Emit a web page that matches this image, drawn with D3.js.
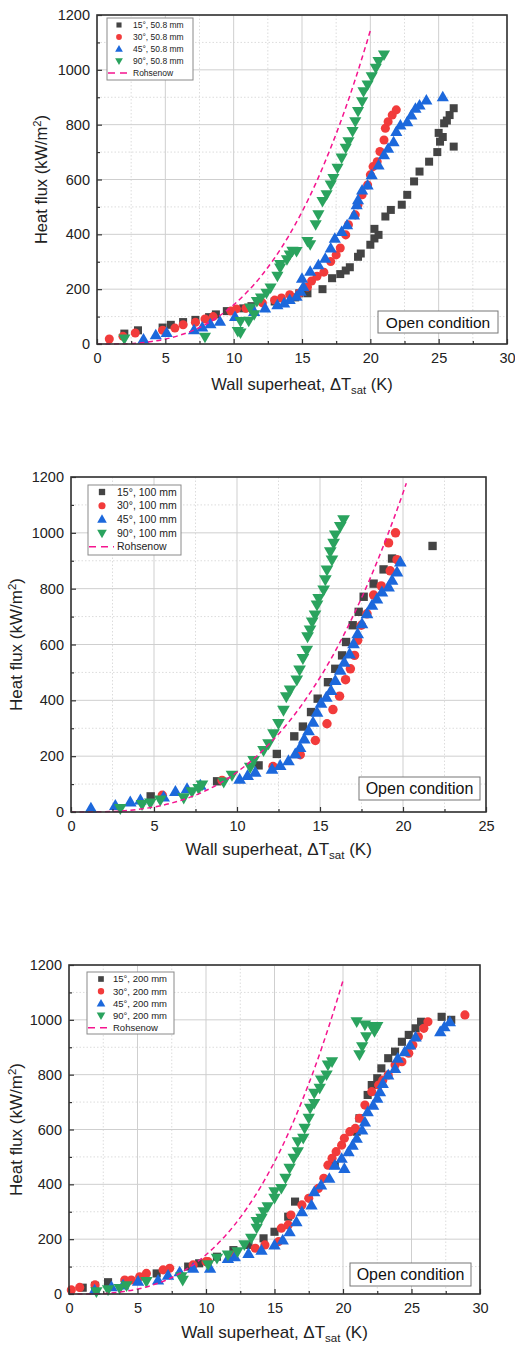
<!DOCTYPE html>
<html>
<head>
<meta charset="utf-8">
<script src="https://cdn.jsdelivr.net/npm/d3@7"></script>
<style>
  body { margin: 0; background: #fff; }
  svg { display: block; font-family: "Liberation Sans", Arial, sans-serif; }
</style>
</head>
<body>
<svg id="chart" width="515" height="1345"></svg>
<script>
// ---- data: [wall superheat (K), heat flux (kW/m2)] ----
let seriesNames = ["15°", "30°", "45°", "90°"];
let lengths = ["50.8 mm", "100 mm", "200 mm"];

let p1s15 = [[2.0,38],[3.0,50],[4.8,60],[5.4,70],[6.3,80],[7.2,88],[8.2,98],[8.7,108],[9.5,120],[10.7,130],[11.3,138],[13.0,155],[14.5,170],[14.8,185],[15.4,185],[16.5,200],[17.2,240],[17.8,255],[18.2,268],[18.5,280],[19.1,318],[19.3,330],[20.0,362],[20.3,385],[20.6,398],[20.3,420],[21.1,465],[21.5,489],[22.3,508],[22.7,544],[23.2,593],[23.6,629],[24.3,665],[24.9,700],[25.1,738],[25.3,755],[25.0,770],[26.1,720],[25.4,805],[25.6,815],[25.8,835],[26.1,860]];
let p1s30 = [[0.9,18],[1.9,28],[2.8,40],[4.8,50],[5.7,58],[6.3,70],[7.2,79],[7.9,91],[8.5,100],[9.8,120],[10.2,128],[10.9,130],[12.1,150],[13.0,160],[13.5,168],[14.1,180],[14.8,185],[15.4,208],[15.7,230],[16.1,247],[16.6,262],[17.1,301],[17.5,325],[17.8,350],[18.2,398],[18.4,435],[18.9,471],[19.1,508],[19.4,544],[19.8,580],[20.0,617],[20.2,647],[20.5,665],[20.7,702],[21.0,744],[21.1,787],[21.3,811],[21.6,835],[21.9,854]];
let p1s45 = [[3.4,18],[4.3,34],[5.1,42],[7.1,52],[7.7,62],[8.3,74],[9.0,83],[10.1,100],[11.5,119],[12.3,131],[13.2,143],[13.7,150],[14.1,162],[14.6,174],[14.9,192],[15.1,210],[15.0,240],[15.6,265],[16.2,289],[16.7,313],[17.1,350],[17.4,386],[17.9,410],[18.3,435],[18.8,471],[19.0,508],[19.1,526],[19.4,562],[19.8,580],[20.1,617],[20.6,653],[21.0,690],[21.3,714],[21.7,738],[21.9,775],[22.2,799],[22.7,811],[23.0,835],[23.3,860],[23.6,872],[24.1,890],[25.3,902]];
let p1s90 = [[2.0,18],[7.9,25],[10.3,46],[10.5,40],[10.5,82],[11.1,83],[11.2,131],[11.5,107],[12.0,168],[11.7,155],[12.4,185],[12.7,204],[13.2,247],[13.4,277],[13.4,290],[13.9,307],[14.1,325],[14.3,338],[14.6,337],[15.4,374],[15.6,362],[16.0,435],[16.2,471],[16.5,520],[16.8,544],[17.1,580],[17.3,604],[17.6,641],[17.9,678],[18.2,714],[18.4,738],[18.7,775],[18.9,811],[19.1,848],[19.4,884],[19.5,920],[19.8,945],[20.1,975],[20.4,1006],[20.6,1030],[21.0,1054]];

let p2s15 = [[4.8,56],[8.8,110],[11.3,167],[12.4,208],[13.45,271],[13.97,306],[14.46,358],[14.86,406],[15.48,465],[15.92,513],[16.33,561],[16.57,609],[16.97,669],[17.33,717],[17.63,771],[18.23,818],[18.83,869],[19.34,908],[21.78,953]];
let p2s30 = [[5.5,60],[9.1,113],[12.17,163],[13.81,205],[14.72,256],[15.42,316],[15.78,367],[16.18,415],[16.54,474],[16.83,513],[17.08,561],[17.27,615],[17.49,669],[17.83,710],[18.23,777],[18.69,810],[19.23,864],[19.64,904],[19.13,964],[19.55,1000]];
let p2s45 = [[1.2,14],[2.67,24],[3.57,36],[4.18,44],[5.58,54],[6.29,74],[6.99,84],[7.79,96],[10.16,118],[10.64,131],[11.1,143],[12.11,154],[12.6,167],[13.1,184],[13.51,208],[13.8,232],[14.05,262],[14.31,292],[14.58,322],[14.82,358],[15.06,390],[15.38,412],[15.66,436],[15.92,472],[16.22,508],[16.46,537],[16.78,567],[17.02,603],[17.27,639],[17.53,675],[17.83,711],[18.13,741],[18.43,764],[18.73,789],[19.13,807],[19.34,831],[19.64,860],[19.84,896]];
let p2s90 = [[2.97,12],[4.28,26],[4.78,32],[5.38,42],[6.79,50],[7.29,72],[7.69,84],[7.89,96],[9.2,107],[9.7,131],[10.8,160],[11.0,184],[11.6,220],[11.9,244],[12.2,280],[12.5,316],[12.8,364],[12.97,412],[13.2,436],[13.6,472],[13.77,508],[13.97,549],[14.2,579],[14.25,627],[14.4,651],[14.53,680],[14.7,705],[14.82,741],[14.92,764],[15.22,795],[15.32,831],[15.42,866],[15.72,902],[15.62,932],[15.82,962],[15.92,992],[16.22,1022],[16.42,1046]];

let p3s15 = [[1.0,23],[1.9,30],[2.85,43],[6.4,75],[8.7,100],[9.5,112],[10.8,136],[12.0,160],[13.1,179],[14.2,203],[15.0,227],[16.0,282],[16.5,337],[19.4,470],[21.0,592],[21.2,641],[21.8,726],[22.1,762],[22.5,787],[22.8,823],[23.3,860],[23.8,884],[24.3,920],[24.8,945],[25.3,969],[25.7,993],[27.2,1011],[27.9,1000]];
let p3s30 = [[0.17,15],[0.78,24],[1.9,33],[4.07,51],[4.55,51],[5.16,63],[5.65,75],[6.87,88],[7.35,94],[9.06,106],[10.0,118],[10.15,118],[12.0,142],[13.6,167],[14.3,179],[15.3,191],[15.5,240],[16.0,252],[16.2,288],[17.0,325],[17.5,349],[18.2,385],[18.6,422],[18.9,470],[19.2,495],[19.5,519],[19.9,543],[20.1,568],[20.5,592],[20.9,604],[21.2,641],[21.6,689],[22.1,738],[22.6,762],[22.9,780],[23.3,799],[23.8,835],[24.3,847],[24.8,878],[25.1,908],[25.5,938],[25.9,969],[26.2,993],[28.9,1018]];
let p3s45 = [[1.87,15],[3.1,27],[3.95,33],[5.04,47],[6.5,51],[7.23,69],[8.08,81],[9.06,94],[10.3,94],[11.6,130],[12.1,136],[13.1,148],[14.05,160],[15.0,179],[15.6,197],[16.1,227],[16.6,264],[17.0,300],[17.7,325],[17.9,373],[18.4,398],[19.0,422],[19.4,470],[19.9,495],[20.1,458],[20.4,519],[20.7,543],[21.0,568],[21.4,598],[21.6,628],[21.8,665],[22.2,689],[22.5,714],[22.7,738],[22.9,768],[23.3,799],[23.8,823],[24.0,860],[24.5,884],[24.9,908],[25.3,938],[27.1,957],[27.4,975],[27.8,993]];
let p3s90 = [[2.0,8],[2.85,15],[3.7,20],[4.2,30],[5.65,45],[8.3,50],[8.2,63],[10.15,106],[10.8,130],[11.6,142],[12.3,154],[12.8,179],[13.3,203],[13.7,240],[13.7,264],[14.05,276],[14.2,300],[14.5,318],[15.0,349],[15.0,373],[15.5,385],[15.8,422],[16.1,458],[16.4,495],[16.7,519],[16.7,555],[17.1,568],[17.2,604],[17.5,641],[17.6,677],[17.9,695],[17.9,732],[18.3,750],[18.4,780],[18.8,799],[18.9,835],[19.2,847],[21.0,993],[21.2,872],[21.4,902],[21.7,938],[22.1,975],[22.5,975],[21.6,981],[22.3,957]];

// Rohsenow correlation curve
let rohsenow = [[0,0],[2,1],[4,9],[6,31],[8,73],[10,143],[12,247],[14,392],[16,585],[17,703],[18,834],[19,981],[20,1143],[20.2,1178]];

let yTicks = [0, 200, 400, 600, 800, 1000, 1200];
let colors = ["#444444", "#f23b3b", "#1c68dc", "#2aa35e"];
let rohColor = "#f5158f";

let panels = [
  { data: [p1s15, p1s30, p1s45, p1s90], len: lengths[0], xMax: 30, xTicks: [0,5,10,15,20,25,30], roh: rohsenow.slice(0, -1),
    left: 97, right: 507, top: 15, bottom: 344, size: 64, tickFont: 14.5, titleFont: 16.5, xTitleY: 390, yTitleX: 47,
    legend: { x: 107, y: 18, w: 86, h: 62, row: 12, font: 8.5, mx: 12, tx: 26, ms: 26 },
    box: { x: 378, y: 311, w: 120, h: 22, font: 15.5 } },
  { data: [p2s15, p2s30, p2s45, p2s90], len: lengths[1], xMax: 25, xTicks: [0,5,10,15,20,25], roh: rohsenow,
    left: 71, right: 486, top: 477, bottom: 812, size: 70, tickFont: 14.5, titleFont: 17, xTitleY: 855, yTitleX: 22,
    legend: { x: 88, y: 485, w: 93, h: 70, row: 13.7, font: 10.5, mx: 14, tx: 29, ms: 40 },
    box: { x: 359, y: 777, w: 121, h: 23, font: 16 } },
  { data: [p3s15, p3s30, p3s45, p3s90], len: lengths[2], xMax: 30, xTicks: [0,5,10,15,20,25,30], roh: rohsenow.slice(0, -1),
    left: 69, right: 480, top: 965, bottom: 1294, size: 66, tickFont: 14.5, titleFont: 17, xTitleY: 1338, yTitleX: 22,
    legend: { x: 87, y: 972, w: 87, h: 62, row: 12.2, font: 9.5, mx: 14, tx: 26, ms: 32 },
    box: { x: 350, y: 1263, w: 121, h: 23, font: 16 } }
];

let svg = d3.select("#chart");
let shapes = [d3.symbolSquare, d3.symbolCircle, d3.symbolTriangle, d3.symbolTriangle];
let rot = [0, 0, 0, 180];

panels.forEach(function(p, pi) {
  let x = d3.scaleLinear().domain([0, p.xMax]).range([p.left, p.right]);
  let y = d3.scaleLinear().domain([0, 1200]).range([p.bottom, p.top]);
  let g = svg.append("g");

  // minor grid (dotted) and major grid (solid)
  let xMinor = d3.range(2.5, p.xMax, 5);
  let yMinor = d3.range(100, 1200, 200);
  g.selectAll(".gxm").data(xMinor).enter().append("line")
    .attr("x1", d => x(d)).attr("x2", d => x(d)).attr("y1", p.top).attr("y2", p.bottom)
    .attr("stroke", "#dcdcdc").attr("stroke-dasharray", "1.5,2");
  g.selectAll(".gym").data(yMinor).enter().append("line")
    .attr("x1", p.left).attr("x2", p.right).attr("y1", d => y(d)).attr("y2", d => y(d))
    .attr("stroke", "#dcdcdc").attr("stroke-dasharray", "1.5,2");
  g.selectAll(".gx").data(p.xTicks).enter().append("line")
    .attr("x1", d => x(d)).attr("x2", d => x(d)).attr("y1", p.top).attr("y2", p.bottom)
    .attr("stroke", "#cfcfcf").attr("stroke-width", 1);
  g.selectAll(".gy").data(yTicks).enter().append("line")
    .attr("x1", p.left).attr("x2", p.right).attr("y1", d => y(d)).attr("y2", d => y(d))
    .attr("stroke", "#cfcfcf").attr("stroke-width", 1);

  // data points
  p.data.forEach(function(s, si) {
    g.append("g").selectAll("path").data(s).enter().append("path")
      .attr("d", d3.symbol().type(shapes[si]).size(p.size))
      .attr("transform", d => `translate(${x(d[0])},${y(d[1]) + (si === 3 ? -1 : si === 2 ? 1 : 0)}) rotate(${rot[si]})`)
      .attr("fill", colors[si]);
  });

  // Rohsenow dashed curve
  g.append("path")
    .datum(p.roh)
    .attr("d", d3.line().x(d => x(d[0])).y(d => y(d[1])).curve(d3.curveMonotoneX))
    .attr("fill", "none").attr("stroke", rohColor).attr("stroke-width", 1.5)
    .attr("stroke-dasharray", "5,3.5");

  // axes with inward ticks
  let ax = g.append("g").attr("transform", `translate(0,${p.bottom})`)
    .call(d3.axisBottom(x).tickValues(p.xTicks).tickSizeInner(-5).tickSizeOuter(0).tickPadding(9));
  let ay = g.append("g").attr("transform", `translate(${p.left},0)`)
    .call(d3.axisLeft(y).tickValues(yTicks).tickFormat(d3.format("d")).tickSizeInner(-5).tickSizeOuter(0).tickPadding(7));
  g.append("g").attr("transform", `translate(0,${p.bottom})`)
    .call(d3.axisBottom(x).tickValues(xMinor).tickSize(-3).tickFormat(""));
  g.append("g").attr("transform", `translate(${p.left},0)`)
    .call(d3.axisLeft(y).tickValues(yMinor).tickSize(-3).tickFormat(""));
  [ax, ay].forEach(a => a.selectAll("text").attr("font-size", p.tickFont).attr("fill", "#222")
    .attr("font-family", "'Liberation Sans', Arial, sans-serif"));
  g.selectAll(".domain").remove();
  g.selectAll(".tick line").attr("stroke", "#333").attr("stroke-width", 1.2);

  // frame
  g.append("rect").attr("x", p.left).attr("y", p.top)
    .attr("width", p.right - p.left).attr("height", p.bottom - p.top)
    .attr("fill", "none").attr("stroke", "#333").attr("stroke-width", 1.6);

  // axis titles
  let xt = g.append("text").attr("x", (p.left + p.right) / 2).attr("y", p.xTitleY)
    .attr("text-anchor", "middle").attr("font-size", p.titleFont).attr("fill", "#222");
  xt.append("tspan").text("Wall superheat, ΔT");
  xt.append("tspan").text("sat").attr("font-size", p.titleFont * 0.68).attr("dy", 4);
  xt.append("tspan").text(" (K)").attr("dy", -4);

  let yt = g.append("text")
    .attr("transform", `translate(${p.yTitleX},${(p.top + p.bottom) / 2}) rotate(-90)`)
    .attr("text-anchor", "middle").attr("font-size", p.titleFont).attr("fill", "#222");
  yt.append("tspan").text("Heat flux (kW/m");
  yt.append("tspan").text("2").attr("font-size", p.titleFont * 0.68).attr("dy", -6);
  yt.append("tspan").text(")").attr("dy", 6);

  // legend
  let L = p.legend;
  let lg = g.append("g");
  lg.append("rect").attr("x", L.x).attr("y", L.y).attr("width", L.w).attr("height", L.h)
    .attr("fill", "#fff").attr("stroke", "#8a8a8a").attr("stroke-width", 1);
  seriesNames.forEach(function(n, si) {
    let cy = L.y + 7 + si * L.row;
    lg.append("path").attr("d", d3.symbol().type(shapes[si]).size(L.ms))
      .attr("transform", `translate(${L.x + L.mx},${cy + (si === 3 ? -0.5 : si === 2 ? 0.5 : 0)}) rotate(${rot[si]})`)
      .attr("fill", colors[si]);
    lg.append("text").attr("x", L.x + L.tx).attr("y", cy).attr("dy", "0.35em")
      .attr("font-size", L.font).attr("fill", "#222").text(`${n}, ${p.len}`);
  });
  let ry = L.y + 7 + 4 * L.row;
  lg.append("line").attr("x1", L.x + 1).attr("x2", L.x + L.tx - 3).attr("y1", ry).attr("y2", ry)
    .attr("stroke", rohColor).attr("stroke-width", 1.5).attr("stroke-dasharray", "7,5");
  lg.append("text").attr("x", L.x + L.tx).attr("y", ry).attr("dy", "0.35em")
    .attr("font-size", L.font).attr("fill", "#222").text("Rohsenow");

  // "Open condition" box
  let B = p.box;
  g.append("rect").attr("x", B.x).attr("y", B.y).attr("width", B.w).attr("height", B.h)
    .attr("fill", "#fff").attr("stroke", "#777").attr("stroke-width", 1);
  g.append("text").attr("x", B.x + B.w / 2).attr("y", B.y + B.h / 2).attr("dy", "0.36em")
    .attr("text-anchor", "middle").attr("font-size", B.font).attr("fill", "#111").text("Open condition");
});
</script>
</body>
</html>
